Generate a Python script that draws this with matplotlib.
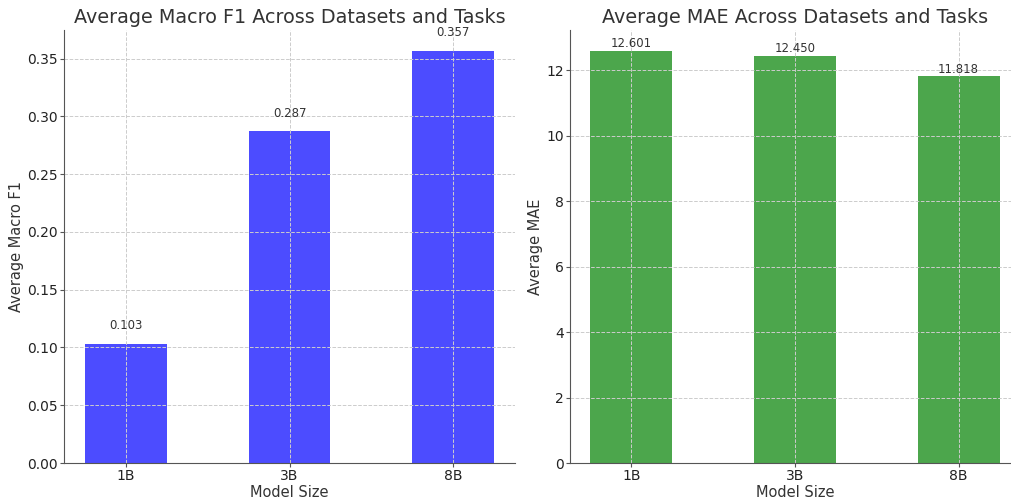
import matplotlib
matplotlib.use("Agg")
import matplotlib.pyplot as plt

# data
model_sizes = ['1B', '3B', '8B']
macro_f1 = [0.103, 0.287, 0.357]
mae = [12.601, 12.450, 11.818]

TEXT = '#333333'
plt.rcParams['axes.edgecolor'] = '#555555'
plt.rcParams['xtick.color'] = '#555555'
plt.rcParams['ytick.color'] = '#555555'
plt.rcParams['xtick.labelcolor'] = '#222222'
plt.rcParams['ytick.labelcolor'] = '#222222'

fig, axes = plt.subplots(1, 2, figsize=(10.12, 4.99), dpi=100)


def draw(ax, values, color, title, ylabel, offset):
    ax.bar(model_sizes, values, color=color, alpha=0.7, width=0.5)
    for i, v in enumerate(values):
        ax.text(i, v + offset, f'{v:.3f}', ha='center', va='bottom',
                fontsize=8.5, color=TEXT)
    ax.set_title(title, fontsize=13.8, color=TEXT, pad=5)
    ax.set_xlabel('Model Size', fontsize=10.5, color=TEXT, labelpad=1.5)
    ax.set_ylabel(ylabel, fontsize=10.5, color=TEXT, labelpad=2.5)
    ax.grid(True, linestyle='--', color='#cccccc', linewidth=0.7)
    ax.spines['top'].set_visible(False)
    ax.spines['right'].set_visible(False)
    ax.tick_params(labelsize=10, length=3, pad=1.5)


draw(axes[0], macro_f1, 'blue', 'Average Macro F1 Across Datasets and Tasks',
     'Average Macro F1', 0.01)
draw(axes[1], mae, 'green', 'Average MAE Across Datasets and Tasks',
     'Average MAE', 0.01)

# right panel runs slightly past the figure edge, as in the reference
fig.subplots_adjust(left=0.0637, right=1.0079, top=0.94, bottom=0.0721, wspace=0.123)
fig.savefig('out.png')
